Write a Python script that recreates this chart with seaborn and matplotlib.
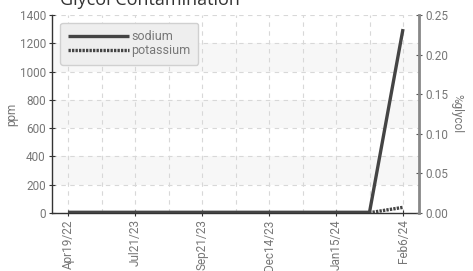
import matplotlib
matplotlib.use("Agg")
import matplotlib.pyplot as plt
import seaborn as sns
import pandas as pd
import numpy as np

# ---- data ----
sample_idx = list(range(11))
sodium = [5, 5, 5, 5, 5, 5, 5, 5, 5, 5, 1300]
potassium = [2, 2, 2, 2, 2, 2, 2, 2, 2, 2, 40]
tick_positions = [0, 2, 4, 6, 8, 10]
tick_labels = ["Apr19/22", "Jul21/23", "Sep21/23", "Dec14/23", "Jan15/24", "Feb6/24"]
left_ticks = [0, 200, 400, 600, 800, 1000, 1200, 1400]
right_ticks = [0.00, 0.05, 0.10, 0.15, 0.20, 0.25]
bands = [(200, 400), (600, 800), (1000, 1200)]

sns.set_style("white")
plt.rcParams['font.family'] = ['Liberation Sans Narrow', 'Roboto', 'DejaVu Sans']

df = pd.DataFrame({"idx": sample_idx, "sodium": sodium, "potassium": potassium})

fig = plt.figure(figsize=(4.73, 2.71), dpi=100)
ax = fig.add_axes([0.110, 0.214, 0.776, 0.731])

for lo, hi in bands:
    ax.axhspan(lo, hi, color="#f7f7f7", zorder=0, lw=0)

sns.lineplot(data=df, x="idx", y="sodium", ax=ax, color="#444444", lw=2.4,
             label="sodium", solid_capstyle="butt", zorder=3)
sns.lineplot(data=df, x="idx", y="potassium", ax=ax, color="#444444", lw=2.4,
             label="potassium", dashes=False, zorder=4)
ax.lines[1].set_linestyle((0, (0.7, 0.35)))
ax.lines[1].set_dash_capstyle("butt")

ax.set_xlim(-0.48, 10.48)
ax.set_ylim(0, 1400)
ax.set_yticks(left_ticks)
ax.set_xticks(sample_idx, minor=True)
ax.set_xticks(tick_positions)
ax.set_xticklabels(tick_labels, rotation=90)
ax.set_xlabel("")
ax.set_ylabel("ppm", color="#777777", fontsize=8.5, labelpad=1)

ax.grid(True, which="both", axis="x", color="#d8d8d8", ls=(0, (4, 4)), lw=0.8)
ax.grid(True, axis="y", color="#d8d8d8", ls=(0, (4, 4)), lw=0.8)
ax.set_axisbelow(True)

for s in ["top", "right"]:
    ax.spines[s].set_visible(False)
ax.spines["left"].set_color("#333333")
ax.spines["bottom"].set_color("#333333")
ax.spines["left"].set_linewidth(1.0)
ax.spines["bottom"].set_linewidth(1.0)
ax.tick_params(axis="y", direction="inout", length=5, width=0.8, color="#333333",
               labelcolor="#777777", labelsize=8.5, pad=2, left=True)
ax.tick_params(axis="x", which="major", direction="inout", length=5, width=0.8,
               color="#333333", labelcolor="#777777", labelsize=8.5, pad=2, bottom=True)
ax.tick_params(axis="x", which="minor", length=0)

ax2 = ax.twinx()
ax2.set_ylim(0, 0.25)
ax2.set_yticks(right_ticks)
ax2.set_yticklabels([f"{v:.2f}" for v in right_ticks])
for s in ["top", "left", "bottom"]:
    ax2.spines[s].set_visible(False)
ax2.spines["right"].set_color("#888888")
ax2.spines["right"].set_linewidth(2.0)
ax2.tick_params(axis="y", direction="inout", length=5, width=0.8, color="#555555",
                labelcolor="#777777", labelsize=8.5, pad=2, right=True)
ax2.set_ylabel("%glycol", color="#777777", fontsize=8.5, rotation=270, labelpad=11)

leg = ax.legend(loc="upper left", bbox_to_anchor=(0.012, 0.98), frameon=True,
                fontsize=9, handlelength=4.9, handletextpad=0.2, borderpad=0.6,
                labelspacing=0.1, fancybox=True, borderaxespad=0.3)
leg.get_frame().set_facecolor("#eeeeee")
leg.get_frame().set_edgecolor("#d0d0d0")
leg.get_frame().set_alpha(1)
for t in leg.get_texts():
    t.set_color("#777777")

fig.text(0.127, 1 - 5 / 271, "Glycol Contamination", fontsize=13, family="Open Sans",
         color="#333333", va="baseline", ha="left")

fig.savefig("out.png", dpi=100, facecolor="white")
